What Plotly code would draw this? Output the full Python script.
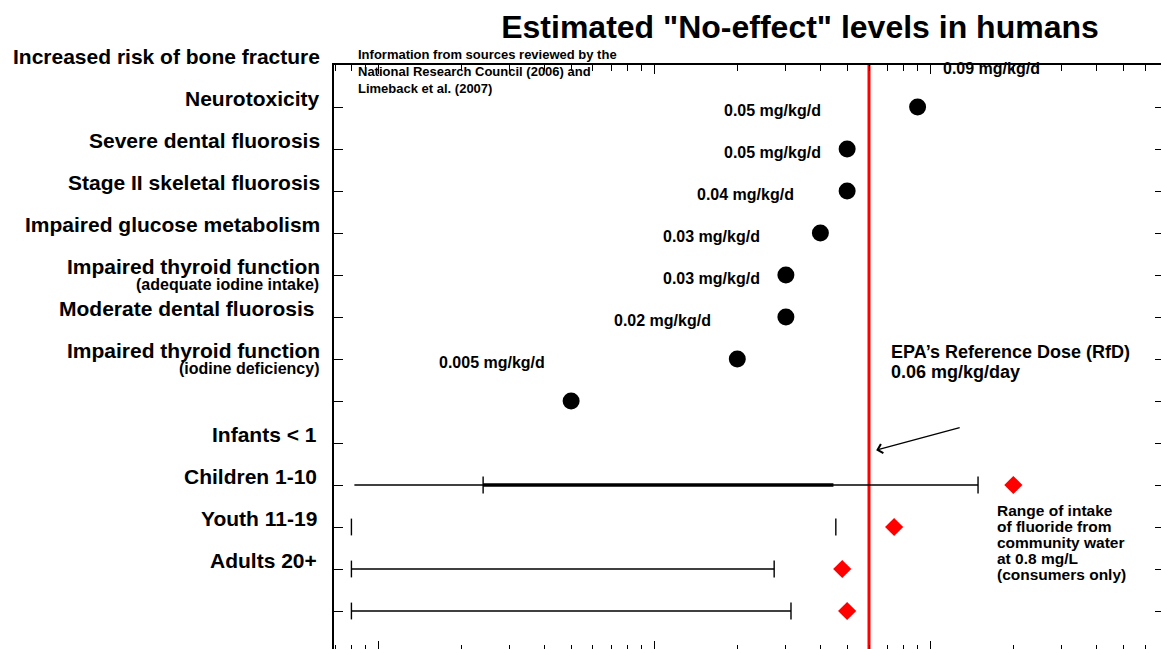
import numpy as np
import plotly.graph_objects as go

# ---------------- data ----------------
outcomes = [
    "Increased risk of bone fracture",
    "Neurotoxicity",
    "Severe dental fluorosis",
    "Stage II skeletal fluorosis",
    "Impaired glucose metabolism",
    "Impaired thyroid function",
    "Moderate dental fluorosis ",
    "Impaired thyroid function",
]
outcome_notes = ["", "", "", "", "", "(adequate iodine intake)", "", "(iodine deficiency)"]
no_effect = [0.09, 0.05, 0.05, 0.04, 0.03, 0.03, 0.02, 0.005]
no_effect_text = ["0.09 mg/kg/d", "0.05 mg/kg/d", "0.05 mg/kg/d", "0.04 mg/kg/d",
                  "0.03 mg/kg/d", "0.03 mg/kg/d", "0.02 mg/kg/d", "0.005 mg/kg/d"]

age_groups = ["Infants < 1", "Children 1-10", "Youth 11-19", "Adults 20+"]
intake_low = [0.00082, 0.0008, 0.0008, 0.0008]
intake_high = [0.149, 0.0455, 0.0272, 0.0313]
children_core = [0.0024, 0.0446]
water_intake = [0.2, 0.074, 0.048, 0.05]

rfd = 0.06
x_range_log = [-3.16, -0.164]

# ---------------- styling ----------------
FONT = "Liberation Sans, Arial, sans-serif"
W, H = 1161, 649
ML, MT = 334, 65
ROW_PX = 42
n_rows = (H - MT) / ROW_PX
label_offset = -1.2
draw_line = [True, False, True, True]
low_cap = [False, True, True, True]

outcome_rows = [i + 1 for i in range(len(outcomes))]
age_rows = [len(outcomes) + 2 + j for j in range(len(age_groups))]


def row_to_paper(r):
    return 1 - r / n_rows


fig = go.Figure()

# red RfD line
fig.add_trace(go.Scatter(x=[rfd, rfd], y=[-1, n_rows + 1], mode="lines",
                         line=dict(color="#ff0000", width=3), hoverinfo="skip"))

# intake ranges (thin)
lx, ly = [], []
for lo, hi, r, dl in zip(intake_low, intake_high, age_rows, draw_line):
    if dl:
        lx += [lo, hi, None]
        ly += [r, r, None]
fig.add_trace(go.Scatter(x=lx, y=ly, mode="lines", line=dict(color="black", width=1.6),
                         hoverinfo="skip"))
# thick core for first age row
fig.add_trace(go.Scatter(x=children_core, y=[age_rows[0]] * 2, mode="lines",
                         line=dict(color="black", width=3.6), hoverinfo="skip"))
# caps
cx, cy = [], []
for lo, hi, r, lc in zip(intake_low, intake_high, age_rows, low_cap):
    if lc:
        cx.append(lo); cy.append(r)
    cx.append(hi); cy.append(r)
cx.append(children_core[0]); cy.append(age_rows[0])
fig.add_trace(go.Scatter(x=cx, y=cy, mode="markers",
                         marker=dict(symbol="line-ns", size=12,
                                     line=dict(color="black", width=1.4)),
                         hoverinfo="skip"))

# no-effect points
fig.add_trace(go.Scatter(x=no_effect, y=outcome_rows, mode="markers",
                         marker=dict(color="black", size=17, symbol="circle"),
                         hoverinfo="skip"))

# water intake diamonds
fig.add_trace(go.Scatter(x=water_intake, y=age_rows, mode="markers",
                         marker=dict(color="#ff0000", size=14, symbol="diamond"),
                         hoverinfo="skip"))

# dummy trace for overlay axes
fig.add_trace(go.Scatter(x=[rfd], y=[1], xaxis="x2", yaxis="y2", mode="markers",
                         marker=dict(opacity=0), hoverinfo="skip"))

ann = []
# category labels
for i, (lab, note) in enumerate(zip(outcomes, outcome_notes)):
    r = outcome_rows[i] + label_offset
    ann.append(dict(x=0, xref="paper", y=row_to_paper(r), yref="paper", xanchor="right",
                    yanchor="middle", xshift=-12, text="<b>%s</b>" % lab, showarrow=False,
                    font=dict(family=FONT, size=21, color="black")))
    if note:
        ann.append(dict(x=0, xref="paper", y=row_to_paper(r), yref="paper", xanchor="right",
                        yanchor="middle", xshift=-13, yshift=-18, text="<b>%s</b>" % note,
                        showarrow=False, font=dict(family=FONT, size=16, color="black")))
for j, lab in enumerate(age_groups):
    r = age_rows[j] + label_offset
    ann.append(dict(x=0, xref="paper", y=row_to_paper(r), yref="paper", xanchor="right",
                    yanchor="middle", xshift=-15, text="<b>%s</b>" % lab, showarrow=False,
                    font=dict(family=FONT, size=21, color="black")))

# value labels
for i, (v, t) in enumerate(zip(no_effect, no_effect_text)):
    first = i == 0
    ann.append(dict(x=np.log10(v), y=outcome_rows[i], xref="x", yref="y",
                    xanchor="left" if first else "right", yanchor="middle",
                    xshift=23 if first else -24, yshift=39,
                    text="<b>%s</b>" % t, showarrow=False,
                    font=dict(family=FONT, size=16, color="black")))

# info text
info_lines = ["Information from sources reviewed by the",
              "National Research Council (2006) and",
              "Limeback et al. (2007)"]
for k, line in enumerate(info_lines):
    ann.append(dict(x=22 / (W - ML), xref="paper", y=1 + (MT - 54 - 17 * k) / (H - MT),
                    yref="paper", xanchor="left", yanchor="middle", text="<b>%s</b>" % line,
                    showarrow=False, font=dict(family=FONT, size=13, color="black")))

# RfD annotation text
rfd_lines = ["EPA’s Reference Dose (RfD)", "0.06 mg/kg/day"]
for k, line in enumerate(rfd_lines):
    ann.append(dict(x=(889 - ML) / (W - ML), xref="paper", y=row_to_paper(6.83 + k * 20 / ROW_PX),
                    yref="paper", xanchor="left", yanchor="middle", text="<b>%s</b>" % line,
                    showarrow=False, font=dict(family=FONT, size=18, color="black")))
# arrow
ann.append(dict(x=np.log10(0.0637), y=9.17, xref="x", yref="y", ax=85, ay=-23,
                axref="pixel", ayref="pixel", text="", showarrow=True,
                arrowhead=4, arrowsize=1.4, arrowwidth=1.3, arrowcolor="black"))

# range text
range_lines = ["Range of intake", "of fluoride from", "community water",
               "at 0.8 mg/L", "(consumers only)"]
for k, line in enumerate(range_lines):
    ann.append(dict(x=(995 - ML) / (W - ML), xref="paper", y=row_to_paper(10.6 + k * 16 / ROW_PX),
                    yref="paper", xanchor="left", yanchor="middle", text="<b>%s</b>" % line,
                    showarrow=False, font=dict(family=FONT, size=15.5, color="black")))

# ticks
majors = [1e-3, 1e-2, 1e-1]
lo_lim, hi_lim = 10 ** x_range_log[0], 10 ** x_range_log[1]
minors = [round(k * d, 6) for d in [1e-4, 1e-3, 1e-2, 1e-1] for k in range(2, 10)
          if lo_lim < k * d < hi_lim and k != 10]
row_ticks = list(range(1, 14))

common_x = dict(type="log", range=x_range_log, showgrid=False, zeroline=False,
                showticklabels=False, tickmode="array", tickvals=majors, ticks="inside",
                tickcolor="black", tickwidth=1.2)

fig.update_layout(
    width=W, height=H,
    margin=dict(l=ML, r=0, t=MT, b=0, pad=0),
    paper_bgcolor="white", plot_bgcolor="white",
    showlegend=False,
    title=dict(text='<b>Estimated "No-effect" levels in humans</b>',
               x=800 / W, xanchor="center", y=1 - 27 / H, yanchor="middle",
               font=dict(family=FONT, size=32, color="black")),
    xaxis=dict(**common_x, ticklen=8, showline=False,
               minor=dict(tickmode="array", tickvals=minors, ticks="inside", ticklen=4,
                          tickcolor="black", tickwidth=1.2)),
    xaxis2=dict(**common_x, ticklen=9, overlaying="x", side="top", anchor="y",
                showline=True, linecolor="black", linewidth=1.5,
                minor=dict(tickmode="array", tickvals=minors, ticks="inside", ticklen=6,
                           tickcolor="black", tickwidth=1.2)),
    yaxis=dict(range=[n_rows, 0], showgrid=False, zeroline=False, showticklabels=False,
               tickmode="array", tickvals=row_ticks, ticks="inside", ticklen=9,
               tickcolor="black", tickwidth=1.2, showline=True, linecolor="black",
               linewidth=1.5),
    yaxis2=dict(range=[n_rows, 0], overlaying="y", side="right", anchor="x",
                showgrid=False, zeroline=False, showticklabels=False,
                tickmode="array", tickvals=row_ticks, ticks="inside", ticklen=6,
                tickcolor="black", tickwidth=1.2, showline=False),
    annotations=ann,
    hovermode=False,
)

fig.write_html("out.html", config={"displayModeBar": False})
